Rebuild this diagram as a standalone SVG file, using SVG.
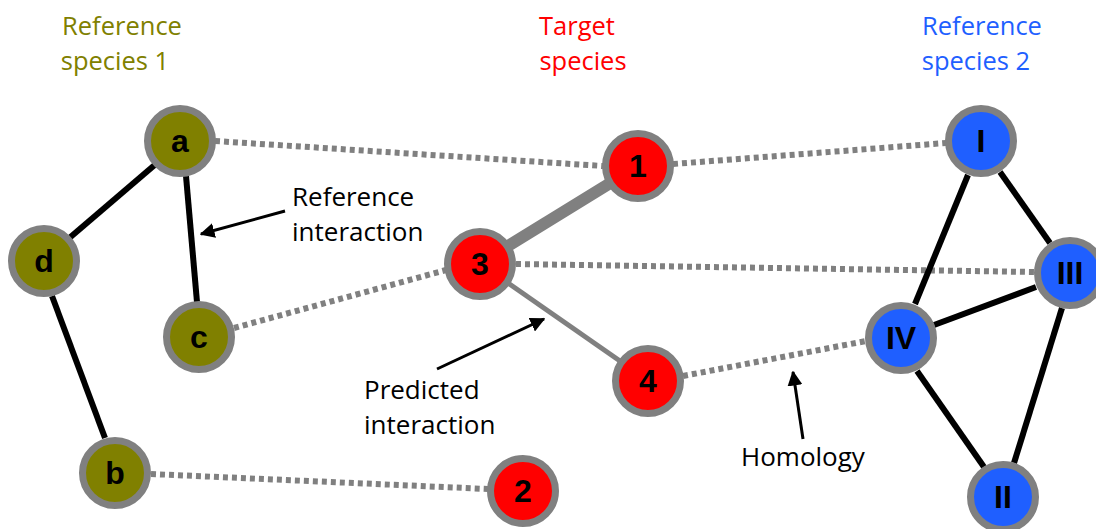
<svg xmlns="http://www.w3.org/2000/svg" width="1096" height="529" viewBox="0 0 1096 529">
  <style>
    .title { font-family: "Open Sans", "Liberation Sans", sans-serif; font-size: 25.5px; text-anchor: middle; }
    .note { font-family: "Open Sans", "Liberation Sans", sans-serif; font-size: 26px; fill: #000; }
    .node circle { stroke: #808080; stroke-width: 7; }
    .node text { font-family: "Liberation Sans", "DejaVu Sans", sans-serif; font-weight: bold; font-size: 32px; text-anchor: middle; fill: #000; }
    .sp1 circle { fill: #808000; }
    .tgt circle { fill: #ff0000; }
    .sp2 circle { fill: #1f5fff; }
    .known { stroke: #000; stroke-width: 6; }
    .homo { stroke: #808080; stroke-width: 6; stroke-dasharray: 5 4; }
    .pred { stroke: #808080; }
    .pointer { stroke: #000; stroke-width: 3; fill: none; marker-end: url(#head); }
  </style>
  <defs>
    <marker id="head" viewBox="0 0 10 10" refX="9" refY="5" markerWidth="5" markerHeight="5" orient="auto" markerUnits="strokeWidth">
      <path d="M0,0 L10,5 L0,10 Z" fill="#000"/>
    </marker>
  </defs>
  <rect width="1096" height="529" fill="#fff"/>

  <!-- column headings -->
  <text class="title" x="122" y="35" fill="#808000">Reference</text>
  <text class="title" x="115" y="70" fill="#808000">species 1</text>
  <text class="title" x="577" y="35" fill="#ff0000">Target</text>
  <text class="title" x="583" y="70" fill="#ff0000">species</text>
  <text class="title" x="982" y="35" fill="#1f5fff">Reference</text>
  <text class="title" x="976" y="70" fill="#1f5fff">species 2</text>

  <g id="connectors">
    <!-- homology links -->
    <line class="homo" x1="215" y1="141" x2="603" y2="166"/>
    <line class="homo" x1="234" y1="328" x2="446" y2="270"/>
    <line class="homo" x1="151" y1="474" x2="488" y2="489"/>
    <line class="homo" x1="673" y1="164" x2="946" y2="143"/>
    <line class="homo" x1="516" y1="264" x2="1035" y2="272"/>
    <line class="homo" x1="683" y1="376" x2="866" y2="341"/>
    <!-- reference species 1 interactions -->
    <line class="known" x1="157" y1="163" x2="67" y2="240"/>
    <line class="known" x1="186" y1="176" x2="197" y2="302"/>
    <line class="known" x1="52" y1="296" x2="105" y2="438"/>
    <!-- reference species 2 interactions -->
    <line class="known" x1="968" y1="175" x2="915" y2="304"/>
    <line class="known" x1="1000" y1="172" x2="1050" y2="243"/>
    <line class="known" x1="1036" y1="287" x2="934" y2="325"/>
    <line class="known" x1="917" y1="371" x2="984" y2="467"/>
    <line class="known" x1="1062" y1="308" x2="1014" y2="463"/>
    <!-- predicted interactions -->
    <line class="pred" x1="508" y1="246" x2="612" y2="182" stroke-width="12"/>
    <line class="pred" x1="508" y1="283" x2="620" y2="361" stroke-width="5"/>
    <!-- annotation pointers -->
    <line class="pointer" x1="285" y1="211" x2="201" y2="234"/>
    <line class="pointer" x1="437" y1="369" x2="544" y2="319"/>
    <line class="pointer" x1="803" y1="439" x2="793" y2="372"/>
  </g>

  <!-- reference species 1 -->
  <g id="node-a" class="node sp1"><circle cx="180" cy="141" r="32.5"/><text x="180" y="152">a</text></g>
  <g id="node-d" class="node sp1"><circle cx="44" cy="261" r="32.5"/><text x="44" y="272">d</text></g>
  <g id="node-c" class="node sp1"><circle cx="199" cy="337" r="32.5"/><text x="199" y="348">c</text></g>
  <g id="node-b" class="node sp1"><circle cx="115" cy="473" r="32.5"/><text x="115" y="484">b</text></g>

  <!-- target species -->
  <g id="node-1" class="node tgt"><circle cx="638" cy="166" r="32.5"/><text x="638" y="177">1</text></g>
  <g id="node-3" class="node tgt"><circle cx="480" cy="264" r="32.5"/><text x="480" y="275">3</text></g>
  <g id="node-4" class="node tgt"><circle cx="648" cy="381" r="32.5"/><text x="648" y="392">4</text></g>
  <g id="node-2" class="node tgt"><circle cx="523" cy="491" r="32.5"/><text x="523" y="502">2</text></g>

  <!-- reference species 2 -->
  <g id="node-I" class="node sp2"><circle cx="981" cy="141" r="32.5"/><text x="981" y="152">I</text></g>
  <g id="node-III" class="node sp2"><circle cx="1070" cy="273" r="32.5"/><text x="1070" y="284">III</text></g>
  <g id="node-IV" class="node sp2"><circle cx="901" cy="338" r="32.5"/><text x="901" y="349">IV</text></g>
  <g id="node-II" class="node sp2"><circle cx="1003" cy="497" r="32.5"/><text x="1003" y="508">II</text></g>

  <!-- annotations -->
  <text class="note" x="292" y="206">Reference</text>
  <text class="note" x="292" y="241">interaction</text>
  <text class="note" x="364" y="399">Predicted</text>
  <text class="note" x="364" y="434">interaction</text>
  <text class="note" x="741" y="466">Homology</text>
</svg>
